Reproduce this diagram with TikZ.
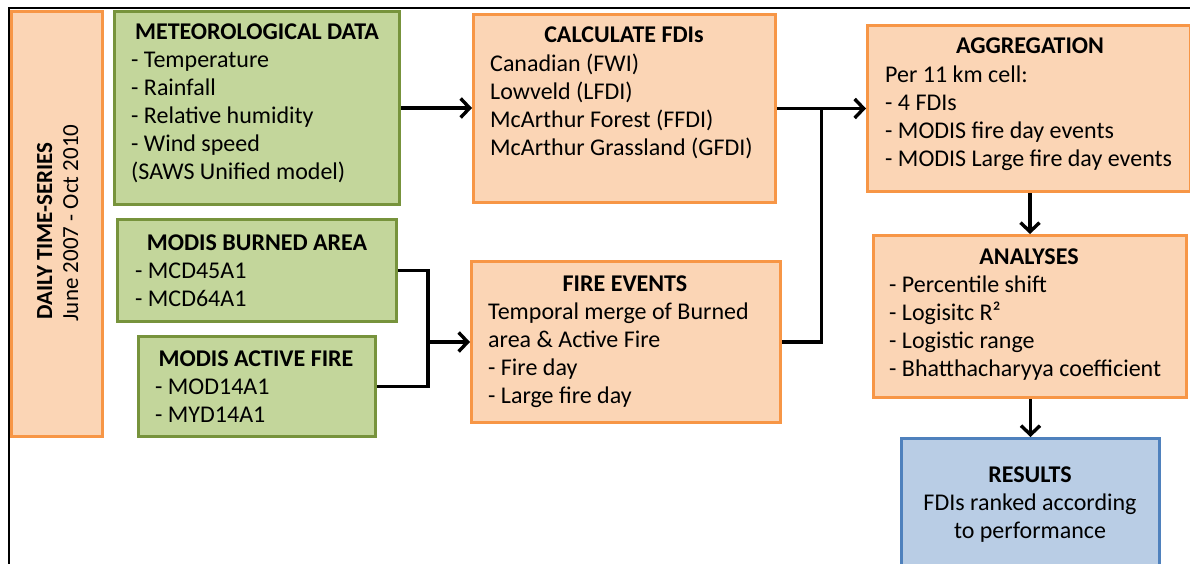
\documentclass[tikz,border=0pt]{standalone}
\usepackage{fontspec}
\setmainfont{Carlito}
\usetikzlibrary{arrows.meta,calc}

\definecolor{peachfill}{HTML}{FBD5B5}
\definecolor{peachline}{HTML}{F79646}
\definecolor{greenfill}{HTML}{C3D69B}
\definecolor{greenline}{HTML}{77933C}
\definecolor{bluefill}{HTML}{B9CDE5}
\definecolor{blueline}{HTML}{4F81BD}

% stacked lines; the baseline of the block is that of its first line
\newcommand\itemlines[1]{\vtop{\baselineskip=28pt\lineskiplimit=-100pt\halign{##\hfil\cr#1\crcr}}}
\newcommand\centerlines[1]{\vtop{\baselineskip=28pt\lineskiplimit=-100pt\halign{\hfil##\hfil\cr#1\crcr}}}

\tikzset{
  box/.style={rectangle, line width=2.6pt, inner sep=0pt, anchor=north west},
  peachbox/.style={box, fill=peachfill, draw=peachline},
  greenbox/.style={box, fill=greenfill, draw=greenline},
  bluebox/.style={box, fill=bluefill, draw=blueline},
  heading/.style={inner sep=0pt, anchor=base, font=\fontsize{24}{28}\selectfont\bfseries},
  body/.style={inner sep=0pt, anchor=base west, font=\fontsize{24}{28}\selectfont},
  cbody/.style={inner sep=0pt, anchor=base, font=\fontsize{24}{28}\selectfont},
  conn/.style={line width=3.4pt, black},
  flow/.style={conn, -{Straight Barb[length=9pt,width=19pt]}}
}

\begin{document}
\begin{tikzpicture}[x=1pt,y=-1pt]
\useasboundingbox (0,0) rectangle (1190,564);
\clip (0,0) rectangle (1190,564);

% page frame
\draw[line width=1.6pt] (9,570) -- (9,8) -- (1195,8);

% boxes
\node[peachbox, minimum width=91.4pt, minimum height=425.4pt] (ts) at (10,10) {};
\node[greenbox, minimum width=285.4pt, minimum height=193.4pt] (met) at (113,10) {};
\node[greenbox, minimum width=279.4pt, minimum height=102.4pt] (burned) at (116,218) {};
\node[greenbox, minimum width=237.4pt, minimum height=100.4pt] (active) at (137,335) {};
\node[peachbox, minimum width=302.4pt, minimum height=188.4pt] (calc) at (472,13) {};
\node[peachbox, minimum width=309.4pt, minimum height=161.4pt] (fire) at (470,260) {};
\node[peachbox, minimum width=323.4pt, minimum height=166.4pt] (agg) at (866,24) {};
\node[peachbox, minimum width=313.4pt, minimum height=162.4pt] (ana) at (872,234) {};
\node[bluebox, minimum width=258.4pt, minimum height=177.4pt] (res) at (900,437) {};

% time-series label
\node[heading, rotate=90, font=\fontsize{23}{28}\selectfont\bfseries] (tstitle) at (52,231) {DAILY TIME-SERIES};
\node[cbody, rotate=90, font=\fontsize{23}{28}\selectfont] (tsdates) at (78,223) {June 2007 - Oct 2010};

% meteorological data
\node[heading] (mettitle) at (257,40) {METEOROLOGICAL DATA};
\node[body] (metitems) at (131,68) {\itemlines{- Temperature\cr - Rainfall\cr - Relative humidity\cr - Wind speed\cr (SAWS Unified model)}};

% MODIS burned area
\node[heading] (burnedtitle) at (257,250) {MODIS BURNED AREA};
\node[body] (burneditems) at (135,278) {\itemlines{- MCD45A1\cr - MCD64A1}};

% MODIS active fire
\node[heading] (activetitle) at (256,366) {MODIS ACTIVE FIRE};
\node[body] (activeitems) at (155,394) {\itemlines{- MOD14A1\cr - MYD14A1}};

% calculate FDIs
\node[heading] (calctitle) at (624,43) {CALCULATE FDIs};
\node[body] (calcitems) at (490,72) {\itemlines{Canadian (FWI)\cr Lowveld (LFDI)\cr McArthur Forest (FFDI)\cr McArthur Grassland (GFDI)}};

% fire events
\node[heading] (firetitle) at (625,291) {FIRE EVENTS};
\node[body] (fireitems) at (488,319) {\itemlines{Temporal merge of Burned\cr area \& Active Fire\cr - Fire day\cr - Large fire day}};

% aggregation
\node[heading] (aggtitle) at (1030,54) {AGGREGATION};
\node[body] (aggitems) at (885,83) {\itemlines{Per 11 km cell:\cr - 4 FDIs\cr - MODIS fire day events\cr - MODIS Large fire day events}};

% analyses
\node[heading] (anatitle) at (1029,264) {ANALYSES};
\node[body] (anaitems) at (889,292) {\itemlines{- Percentile shift\cr - Logisitc R²\cr - Logistic range\cr - Bhatthacharyya coefficient}};

% results
\node[heading] (restitle) at (1030,482) {RESULTS};
\node[cbody] (resitems) at (1030,510) {\centerlines{FDIs ranked according\cr to performance}};

% connectors
\coordinate (jright) at ($(calc.east)!0.5!(agg.west)$);
\coordinate (jleft) at ($(fire.west)+(-42,0)$);

\draw[flow] (met.east) -- (met.east -| calc.west);
\draw[flow] (calc.east) -- (agg.west);
\draw[conn] (fire.east) -| (jright);
\draw[conn] (burned.east) -| (jleft);
\draw[conn] (active.east) -| (jleft);
\draw[flow] (jleft) -- (fire.west);
\draw[flow] (ana.north |- agg.south) -- (ana.north);
\draw[flow] (res.north |- ana.south) -- (res.north);
\end{tikzpicture}
\end{document}
